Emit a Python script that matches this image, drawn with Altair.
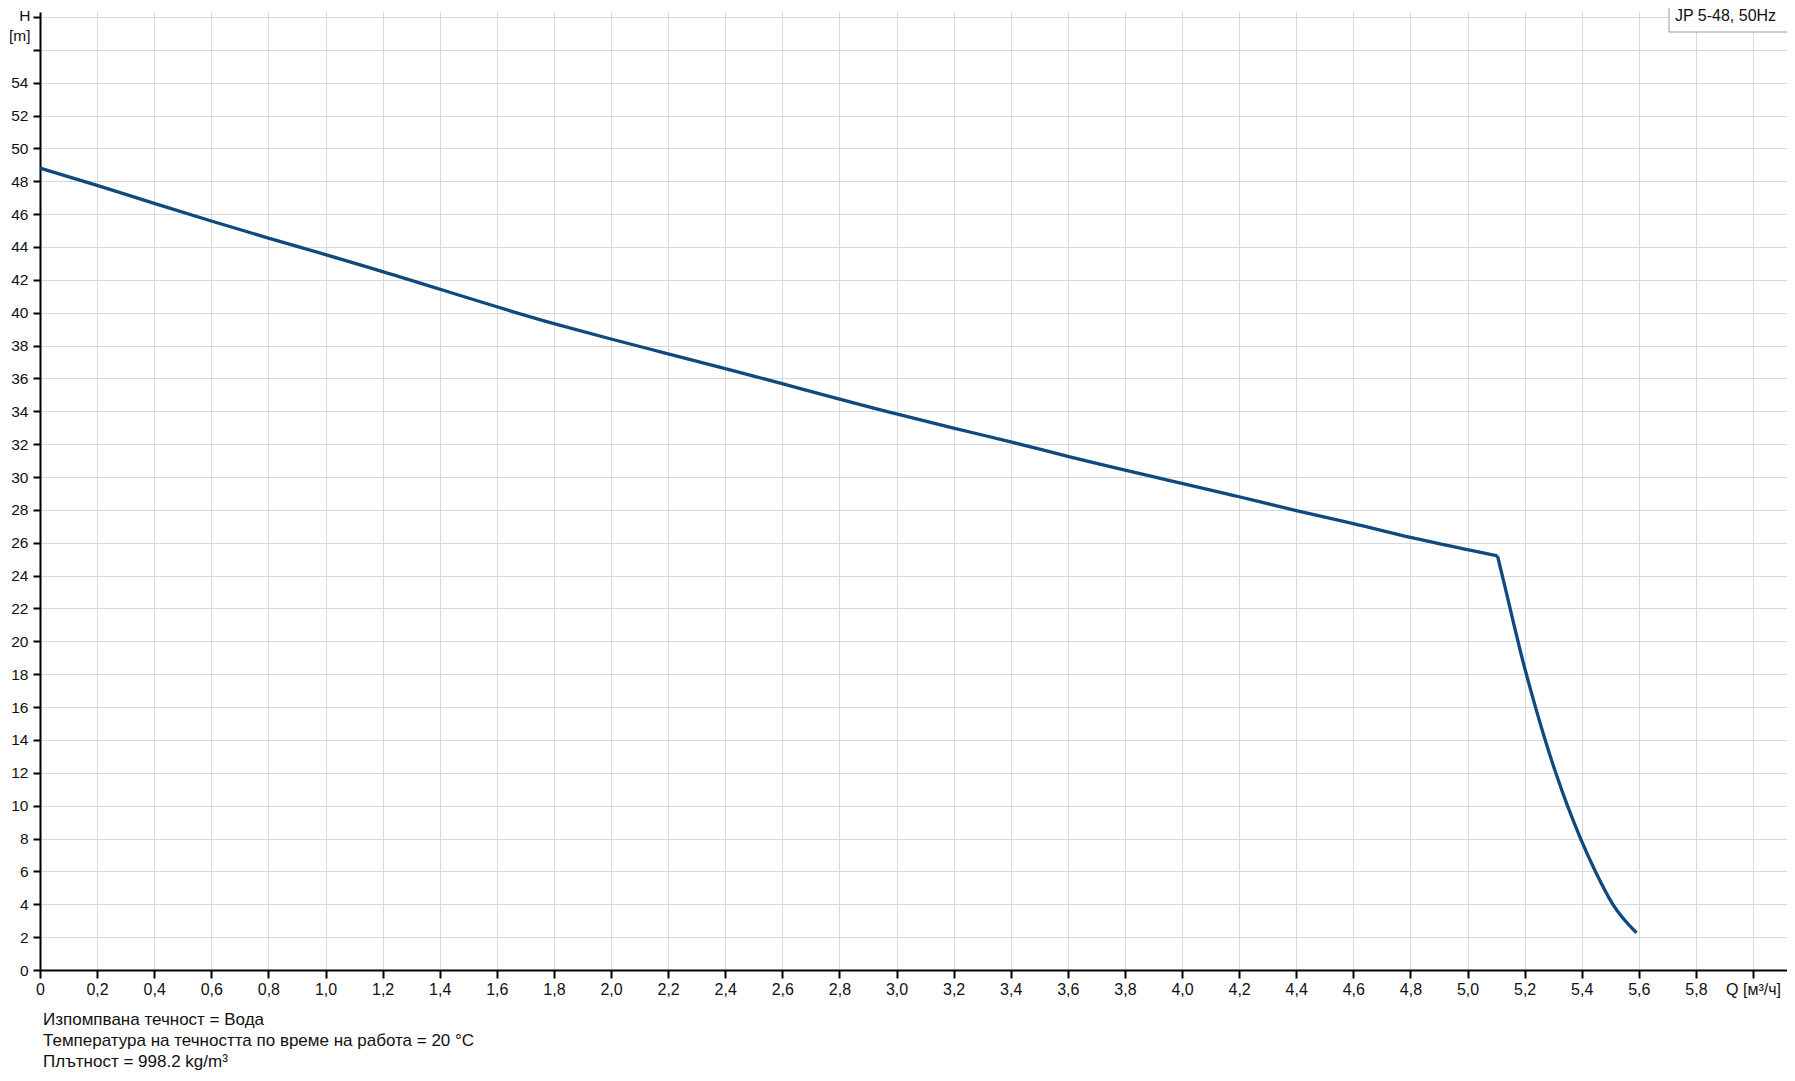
import altair as alt
import pandas as pd

# Pump curve JP 5-48, 50Hz  (Q in m3/h, H in m)
# straight-ish part up to the knee
q_main = [0.0, 0.2, 0.4, 0.6, 0.8, 1.0, 1.2, 1.8, 2.0, 2.2, 2.4, 3.0, 3.2, 3.4, 3.6,
          4.2, 4.4, 4.6, 4.8, 5.0, 5.105]
h_main = [48.8, 47.75, 46.65, 45.58, 44.54, 43.54, 42.5, 39.34, 38.4, 37.5, 36.6, 33.84,
          32.98, 32.14, 31.26, 28.8, 27.96, 27.17, 26.33, 25.58, 25.2]
# steep tail after the knee
q_tail = [5.105, 5.133, 5.160, 5.188, 5.238, 5.272, 5.309, 5.350, 5.396, 5.448, 5.509, 5.592]
h_tail = [25.2, 23.2, 21.2, 19.2, 16.0, 14.0, 12.0, 10.0, 8.0, 6.0, 4.0, 2.26]

x_ticks = [0.0, 0.2, 0.4, 0.6, 0.8, 1.0, 1.2, 1.4, 1.6, 1.8, 2.0, 2.2, 2.4, 2.6, 2.8, 3.0,
           3.2, 3.4, 3.6, 3.8, 4.0, 4.2, 4.4, 4.6, 4.8, 5.0, 5.2, 5.4, 5.6, 5.8, 6.0]
y_ticks = [0, 2, 4, 6, 8, 10, 12, 14, 16, 18, 20, 22, 24, 26, 28, 30, 32, 34, 36, 38, 40,
           42, 44, 46, 48, 50, 52, 54, 56, 58]

x_unit_label = "Q [м³/ч]"
y_title = ["H", "[m]"]
model_label = "JP 5-48, 50Hz"
notes = [
    "Изпомпвана течност = Вода",
    "Температура на течността по време на работа = 20 °C",
    "Плътност = 998.2 kg/m³",
]

FONT = "Liberation Sans"
LINE_COLOR = "#0f4a7e"

df_main = pd.DataFrame({"q": q_main, "h": h_main})
df_tail = pd.DataFrame({"q": q_tail, "h": h_tail})

x_enc = alt.X(
    "q:Q",
    scale=alt.Scale(domain=[0, 6.119], nice=False, zero=False),
    axis=alt.Axis(
        values=x_ticks,
        title=None,
        tickSize=8,
        labelPadding=3,
        labelFontSize=16,
        labelOverlap=False,
        labelFlush=False,
        labelExpr=(
            "datum.value >= 5.99 ? '" + x_unit_label + "' : "
            "(datum.value == 0 ? '0' : replace(format(datum.value, '.1f'), '.', ','))"
        ),
    ),
)
y_enc = alt.Y(
    "h:Q",
    scale=alt.Scale(domain=[0, 58.3], nice=False, zero=False),
    axis=alt.Axis(
        values=y_ticks,
        title=y_title,
        titleAngle=0,
        titleAlign="right",
        titleBaseline="top",
        titleX=-10,
        titleY=-4,
        titleLineHeight=20,
        titleFont=FONT,
        titleFontSize=15.5,
        titleFontWeight="normal",
        titleColor="#111111",
        tickSize=7,
        labelPadding=5,
        labelFontSize=15.5,
        labelOverlap=False,
        labelFlush=False,
        labelExpr="datum.value >= 56 ? '' : datum.label",
    ),
)

line_main = alt.Chart(df_main).mark_line(
    color=LINE_COLOR, strokeWidth=3.3, interpolate="monotone"
).encode(x=x_enc, y=y_enc)
line_tail = alt.Chart(df_tail).mark_line(
    color=LINE_COLOR, strokeWidth=3.3, interpolate="monotone"
).encode(x=x_enc, y=y_enc)

one_row = alt.Data(values=[{"k": 1}])
box = alt.Chart(one_row).mark_rect(
    fill="white", stroke="#9a9a9a", strokeWidth=1
).encode(x=alt.value(1629), x2=alt.value(1760), y=alt.value(-8), y2=alt.value(20))
box_text = alt.Chart(one_row).mark_text(
    align="left", baseline="middle", font=FONT, fontSize=16, color="#111111"
).encode(x=alt.value(1635), y=alt.value(4), text=alt.value(model_label))

chart = (
    alt.layer(line_main, line_tail, box, box_text)
    .properties(
        width=1747,
        height=958,
        padding={"left": 32, "top": 4, "right": 0, "bottom": 103},
        autosize=alt.AutoSizeParams(type="none"),
        title=alt.TitleParams(
            text=notes,
            orient="bottom",
            anchor="start",
            frame="group",
            font=FONT,
            fontSize=17,
            fontWeight="normal",
            color="#111111",
            lineHeight=21,
            offset=15,
            dx=3,
        ),
    )
    .configure_view(strokeWidth=0)
    .configure_axis(
        domainColor="black",
        domainWidth=2,
        tickColor="black",
        tickWidth=2,
        gridColor="#d9d9d9",
        gridWidth=1,
        labelFont=FONT,
        labelColor="#111111",
    )
)

chart.save("out.html", embed_options={"renderer": "svg", "actions": False})
